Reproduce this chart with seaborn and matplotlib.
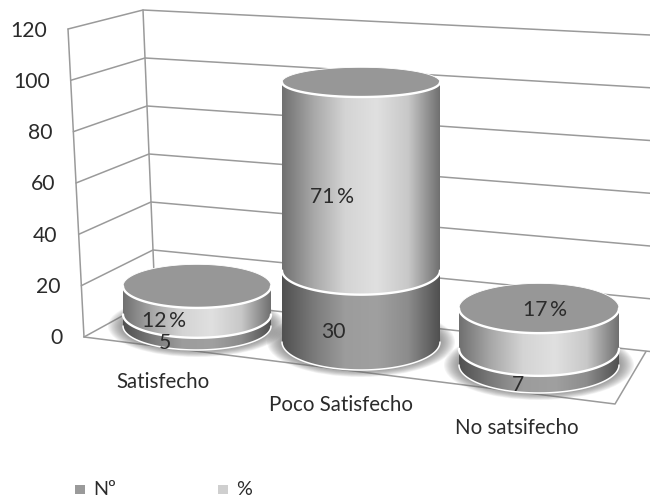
import numpy as np
import pandas as pd
import matplotlib
matplotlib.use("Agg")
import matplotlib.pyplot as plt
from matplotlib.patches import Ellipse, Polygon, Rectangle
import seaborn as sns

# Survey results
categories = ["Satisfecho", "Poco Satisfecho", "No satsifecho"]
counts = [5, 30, 7]
percents = [12, 71, 17]
y_ticks = [0, 20, 40, 60, 80, 100, 120]
series_names = ["Nº", "%"]

sns.set_theme(style="white")
plt.rcParams["font.family"] = ["Lato", "DejaVu Sans"]

W, H = 650, 503
fig = plt.figure(figsize=(W / 100, H / 100), dpi=100, facecolor="white")
ax = fig.add_axes([0, 0, 1, 1])

TEXT = "#2b2b2b"
GRID = "#9a9a9a"
NUM_FONT = 15.2
WORD_FONT = 14.8

# Corners of the oblique chart box, as (x at 0, y at 0, x at top, y at top)
FRONT_LEFT = (84, 337, 68, 29)
BACK_LEFT = (155, 298, 143, 10)
BACK_RIGHT = (650, 351.5, 650, 35)
FRONT_RIGHT = (615, 404)
AXIS_MAX = 120


def wall_point(corner, value):
    t = value / AXIS_MAX
    return corner[0] + (corner[2] - corner[0]) * t, corner[1] + (corner[3] - corner[1]) * t


# Gridlines and wall edges
rows = []
for v in y_ticks:
    for order, corner in enumerate((FRONT_LEFT, BACK_LEFT, BACK_RIGHT)):
        x, y = wall_point(corner, v)
        rows.append({"tick": v, "order": order, "x": x, "y": y})
grid = pd.DataFrame(rows)
sns.lineplot(data=grid, x="x", y="y", units="tick", estimator=None, sort=False,
             color=GRID, lw=1.1, ax=ax)
for corner in (FRONT_LEFT, BACK_LEFT):
    ax.plot([corner[0], corner[2]], [corner[1], corner[3]], color=GRID, lw=1.1)
ax.plot([FRONT_LEFT[0], FRONT_RIGHT[0], BACK_RIGHT[0] - 4],
        [FRONT_LEFT[1], FRONT_RIGHT[1], BACK_RIGHT[1]], color=GRID, lw=1.1)

for v in y_ticks:
    x, y = wall_point(FRONT_LEFT, v)
    ax.text(x - 21, y + 1.5, str(v), ha="right", va="center", fontsize=NUM_FONT, color=TEXT)

# Cylinder layout along the floor
column_x = [197, 361, 539]
column_base_y = [326, 342, 365]
column_a = [74, 79, 80]
column_b0 = [24, 28, 28]


def rise(v):
    # The columns stand nearer the viewer, so the scale grows slightly with height
    return 2.3 * v + 0.0027 * v ** 2


def ring(i, v, t):
    cx, a = column_x[i], column_a[i]
    b = column_b0[i] - 0.13 * v
    cy = column_base_y[i] - rise(v)
    return cx + a * np.cos(t), cy + b * np.sin(t)


def draw_side(i, v0, v1, cmap):
    front = np.linspace(0, np.pi, 90)
    xt, yt = ring(i, v1, front)
    xb, yb = ring(i, v0, front[::-1])
    poly = Polygon(np.c_[np.r_[xt, xb], np.r_[yt, yb]], closed=True, fc="none", ec="none")
    ax.add_patch(poly)
    cx, a = column_x[i], column_a[i]
    im = ax.imshow(np.linspace(0, 1, 256)[None, :], cmap=cmap, aspect="auto", zorder=4,
                   extent=(cx - a, cx + a, max(yb) + 1, min(yt) - 1), vmin=0, vmax=1)
    im.set_clip_path(poly)


def draw_shadow(i):
    # Soft halo on the floor: nested translucent ellipses build up towards the base
    cx, a = column_x[i], column_a[i]
    cy = column_base_y[i]
    b = column_b0[i]
    for grow in np.linspace(1, 0, 14):
        ax.add_patch(Ellipse((cx, cy), 2 * (a + 15 * grow), 2 * (b + 7 * grow),
                             fc="#6a6a6a", ec="none", alpha=0.07, zorder=3))


dark_cmap = sns.blend_palette(["#505050", "#7a7a7a", "#9c9c9c", "#a0a0a0", "#8c8c8c", "#505050"],
                              n_colors=256, as_cmap=True)
light_cmap = sns.blend_palette(["#707070", "#a8a8a8", "#d4d4d4", "#e0e0e0", "#c8c8c8", "#707070"],
                               n_colors=256, as_cmap=True)

for i in range(len(categories)):
    draw_shadow(i)

for i in range(len(categories)):
    n, p = counts[i], percents[i]
    draw_side(i, 0, n, dark_cmap)
    draw_side(i, n, n + p, light_cmap)

    full = np.linspace(0, 2 * np.pi, 180)
    tx, ty = ring(i, n + p, full)
    ax.add_patch(Polygon(np.c_[tx, ty], closed=True, fc="#979797", ec="white", lw=0.6, zorder=5))

    front = np.linspace(0, np.pi, 90)
    ax.plot(*ring(i, n + p, front), color="white", lw=1.7, zorder=6)
    ax.plot(*ring(i, n, front), color="white", lw=1.7, zorder=6)
    ax.plot(*ring(i, 0, front), color="white", lw=1.1, zorder=6)

# Value labels
count_label_pos = [(165, 343), (333, 332), (518, 385)]
percent_label_pos = [(164, 321), (332, 197), (545, 310)]
for i in range(len(categories)):
    ax.text(*count_label_pos[i], str(counts[i]), ha="center", va="center",
            fontsize=NUM_FONT, color=TEXT, zorder=8)
    ax.text(*percent_label_pos[i], f"{percents[i]}\u2009%", ha="center", va="center",
            fontsize=NUM_FONT, color=TEXT, zorder=8)

# Category labels under the floor
category_label_pos = [(163, 382), (341, 405), (517, 428)]
for label, pos in zip(categories, category_label_pos):
    ax.text(*pos, label, ha="center", va="center", fontsize=WORD_FONT, color=TEXT)

# Legend
legend_x = [75, 218]
legend_colors = ["#9a9a9a", "#cfcfcf"]
for name, x, c in zip(series_names, legend_x, legend_colors):
    ax.add_patch(Rectangle((x, 485), 10, 9, fc=c, ec="none"))
    ax.text(x + 18, 489.5, name, ha="left", va="center", fontsize=NUM_FONT - 1, color=TEXT)

ax.set_xlim(0, W)
ax.set_ylim(H, 0)
ax.set_xlabel("")
ax.set_ylabel("")
ax.axis("off")
fig.savefig("out.png", dpi=100, facecolor="white")
